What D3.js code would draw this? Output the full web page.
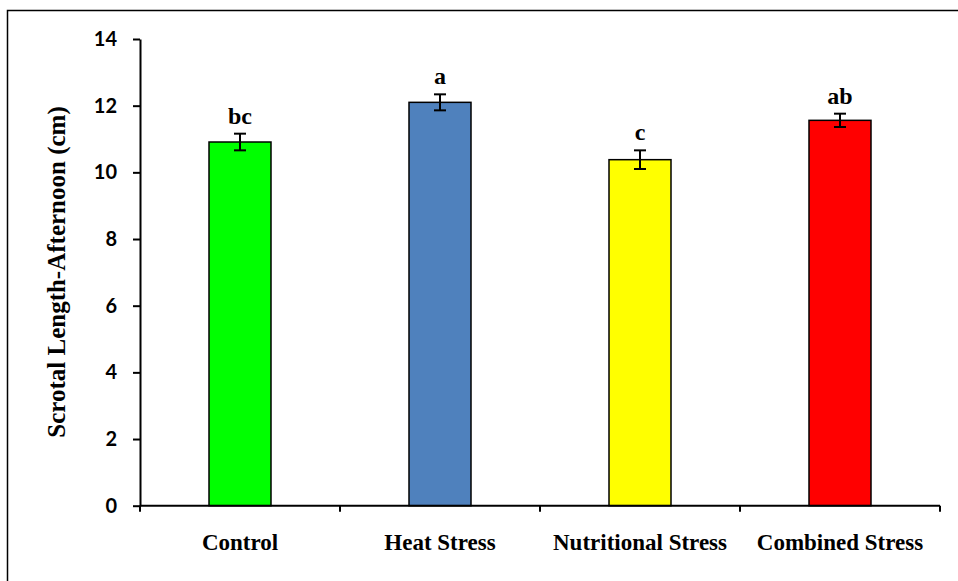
<!DOCTYPE html>
<html>
<head>
<meta charset="utf-8">
<script src="https://cdn.jsdelivr.net/npm/d3@7"></script>
<style>
  body { margin: 0; background: #fff; }
  svg { display: block; }
</style>
</head>
<body>
<div id="chart"></div>
<script>
const groups = ["Control", "Heat Stress", "Nutritional Stress", "Combined Stress"];
const means = [10.91, 12.1, 10.38, 11.56];
const errors = [0.25, 0.24, 0.28, 0.2];
const letters = ["bc", "a", "c", "ab"];
const colors = ["#00ff00", "#4f81bd", "#ffff00", "#ff0000"];
const yTicks = [0, 2, 4, 6, 8, 10, 12, 14];

const W = 958, H = 581;
const margin = {top: 39, right: 18, bottom: 75, left: 140};
const width = 940 - margin.left,
      height = 505.7 - margin.top;

const serif = "'Liberation Serif', 'Times New Roman', serif";

const svg = d3.select("#chart").append("svg")
    .attr("width", W).attr("height", H);

// outer frame
svg.append("rect")
   .attr("x", 7.5).attr("y", 10.5)
   .attr("width", 1000).attr("height", 700)
   .attr("fill", "none").attr("stroke", "#000").attr("stroke-width", 1.5);

const g = svg.append("g").attr("transform", `translate(${margin.left},${margin.top})`);

const x = d3.scaleBand().domain(groups).range([0, width]).paddingInner(0.69).paddingOuter(0.345);
const y = d3.scaleLinear().domain([0, 14]).range([height, 0]);

// bars
g.selectAll(".bar")
 .data(groups)
 .enter().append("rect")
 .attr("x", d => x(d))
 .attr("y", (d, i) => y(means[i]))
 .attr("width", x.bandwidth())
 .attr("height", (d, i) => height - y(means[i]))
 .attr("fill", (d, i) => colors[i])
 .attr("stroke", "#000").attr("stroke-width", 1.5);

// error bars
const cx = d => x(d) + x.bandwidth() / 2;
groups.forEach((d, i) => {
    const top = y(means[i] + errors[i]), bot = y(means[i] - errors[i]);
    g.append("line").attr("x1", cx(d)).attr("x2", cx(d)).attr("y1", top).attr("y2", bot)
     .attr("stroke", "#000").attr("stroke-width", 2);
    [top, bot].forEach(v => {
        g.append("line").attr("x1", cx(d) - 6).attr("x2", cx(d) + 6).attr("y1", v).attr("y2", v)
         .attr("stroke", "#000").attr("stroke-width", 2);
    });
    g.append("text")
     .attr("x", cx(d)).attr("y", top - 10)
     .attr("text-anchor", "middle")
     .style("font-family", serif)
     .style("font-weight", "bold").style("font-size", "24px")
     .text(letters[i]);
});

// y axis
const yAxis = g.append("g")
   .call(d3.axisLeft(y).tickValues(yTicks).tickSize(7).tickPadding(16).tickSizeOuter(0));
yAxis.select(".domain").attr("stroke-width", 2);
yAxis.selectAll(".tick line").attr("stroke-width", 2);
yAxis.selectAll("text")
     .style("font-family", "Lato, 'Open Sans', sans-serif")
     .style("font-weight", "bold").style("font-size", "20px").attr("fill", "#000");

// x axis with ticks between categories
const xAxis = g.append("g").attr("transform", `translate(0,${height})`);
xAxis.append("line").attr("x1", 0).attr("x2", width).attr("stroke", "#000").attr("stroke-width", 2);
d3.range(groups.length + 1).forEach(k => {
    xAxis.append("line").attr("x1", k * width / groups.length).attr("x2", k * width / groups.length)
         .attr("y1", 0).attr("y2", 6).attr("stroke", "#000").attr("stroke-width", 2);
});
xAxis.selectAll(".lbl")
     .data(groups)
     .enter().append("text")
     .attr("x", d => cx(d)).attr("y", 44)
     .attr("text-anchor", "middle")
     .style("font-family", serif)
     .style("font-weight", "bold").style("font-size", "23px")
     .text(d => d);

// y title
svg.append("text")
   .attr("transform", "translate(65,272) rotate(-90)")
   .attr("text-anchor", "middle")
   .style("font-family", serif)
   .style("font-weight", "bold").style("font-size", "25px")
   .text("Scrotal Length-Afternoon (cm)");
</script>
</body>
</html>
